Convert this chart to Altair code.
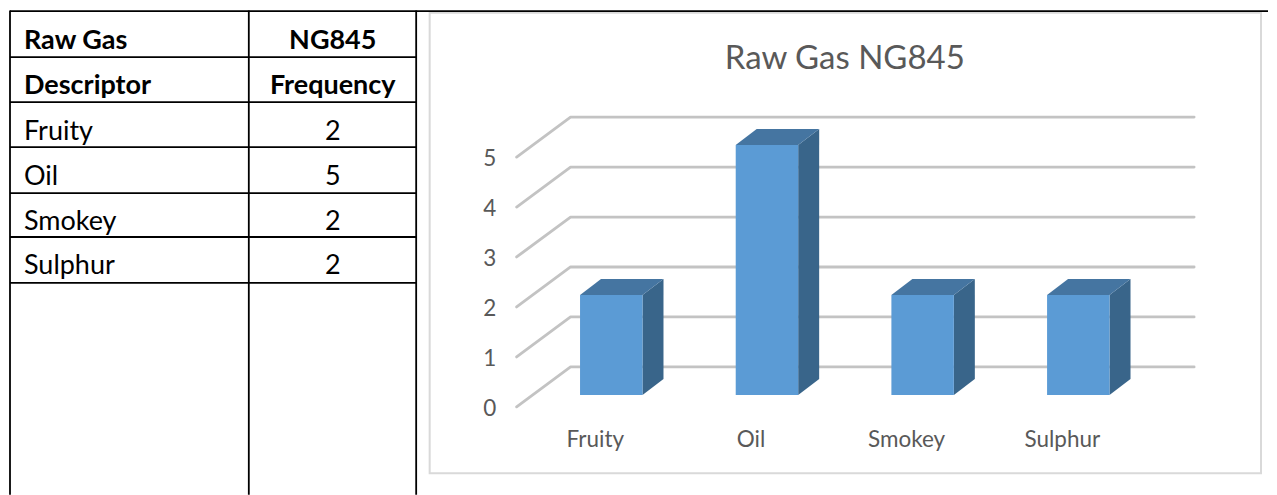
import altair as alt
import pandas as pd

# ---- chart values
categories = ["Fruity", "Oil", "Smokey", "Sulphur"]
frequency = [2, 5, 2, 2]
y_ticks = [0, 1, 2, 3, 4, 5]
chart_title = ["Raw Gas NG845"]

# ---- table contents
table_heads_left = ["Raw Gas", "Descriptor"]
table_heads_right = ["NG845", "Frequency"]

# ---- table geometry (page pixels)
row_lines = [11, 57, 102, 147, 193, 237, 283]
col_lines = [10, 249, 416.5]
head_y = [40.5, 85.5]
row_y = [131.5, 176.5, 221.5, 266.5]

FONT = "Lato"
W, H = 1261, 487
RIGHT = 8 + W
px_x = alt.Scale(domain=[8, RIGHT], range=[0, W])
px_y = alt.Scale(domain=[495, 8], range=[H, 0])
cx = alt.Scale(domain=[(8 - 611.75) / 155.8, (RIGHT - 611.75) / 155.8], range=[0, W], nice=False, zero=False)
vy = alt.Scale(domain=[-2.0, 7.74], range=[H, 0], nice=False, zero=False)

# ---- table layer
frame = alt.Chart(pd.DataFrame({"a": [430], "b": [1262], "c": [12.5], "d": [473.5]})).mark_rect(
    fill="white", stroke="#d9d9d9", strokeWidth=2
).encode(
    x=alt.X("a:Q", scale=px_x, axis=None), x2="b:Q",
    y=alt.Y("c:Q", scale=px_y, axis=None), y2="d:Q",
)
hl = pd.DataFrame({"y": row_lines[1:], "a": 10, "b": 416.5})
hl = pd.concat([hl, pd.DataFrame({"y": [11], "a": [10], "b": [RIGHT]})])
hrules = alt.Chart(hl).mark_rule(color="black", strokeWidth=1.8).encode(
    x=alt.X("a:Q", scale=px_x, axis=None), x2="b:Q",
    y=alt.Y("y:Q", scale=px_y, axis=None),
)
vl = pd.DataFrame({"x": col_lines, "a": 10.2, "b": 495})
vrules = alt.Chart(vl).mark_rule(color="black", strokeWidth=1.8).encode(
    x=alt.X("x:Q", scale=px_x, axis=None),
    y=alt.Y("a:Q", scale=px_y, axis=None), y2="b:Q",
)
left = pd.DataFrame({"t": table_heads_left + categories, "y": head_y + row_y,
                     "b": ["bold"] * 2 + ["normal"] * 4, "x": 24})
right = pd.DataFrame({"t": table_heads_right + [str(v) for v in frequency], "y": head_y + row_y,
                      "b": ["bold"] * 2 + ["normal"] * 4, "x": 333})
def table_text(df, align):
    base = alt.Chart(df)
    out = []
    for w in ["bold", "normal"]:
        out.append(base.transform_filter(alt.datum.b == w).mark_text(
            font=FONT, fontSize=27, fontWeight=w, align=align, baseline="middle", color="black"
        ).encode(
            x=alt.X("x:Q", scale=px_x, axis=None),
            y=alt.Y("y:Q", scale=px_y, axis=None),
            text="t:N",
        ))
    return out
table_layer = alt.layer(frame, hrules, vrules, *table_text(left, "left"), *table_text(right, "center"))

# ---- 3-D chart layer (x in category units, y in frequency units)
BAR_W, DX, DY = 0.4012, 0.1348, 0.32
WALL_L, WALL_B, WALL_R = -0.608, -0.2616, 3.744
FRONT_DY, BACK_DY = -0.24, 0.56

grid_rows = []
for v in y_ticks:
    grid_rows += [{"v": v, "x": WALL_L, "y": v + FRONT_DY},
                  {"v": v, "x": WALL_B, "y": v + BACK_DY},
                  {"v": v, "x": WALL_R, "y": v + BACK_DY}]
grid = alt.Chart(pd.DataFrame(grid_rows)).mark_line(
    color="#c3c3c3", strokeWidth=2.8, strokeCap="round", strokeJoin="round"
).encode(
    x=alt.X("x:Q", scale=cx, axis=None),
    y=alt.Y("y:Q", scale=vy, axis=None),
    detail="v:N",
    order="x:Q",
)

front, side, top = [], [], []
for i, (c, v) in enumerate(zip(categories, frequency)):
    l, r = i - BAR_W / 2, i + BAR_W / 2
    front.append({"c": c, "l": l, "r": r, "v": v, "z": 0})
    side += [{"c": c, "px": r, "lo": 0, "hi": v}, {"c": c, "px": r + DX, "lo": DY, "hi": v + DY}]
    top += [{"c": c, "px": l, "lo": v, "hi": v},
            {"c": c, "px": l + DX, "lo": v, "hi": v + DY},
            {"c": c, "px": r, "lo": v, "hi": v + DY},
            {"c": c, "px": r + DX, "lo": v + DY, "hi": v + DY}]

def face(rows, color):
    return alt.Chart(pd.DataFrame(rows)).mark_area(
        color=color, interpolate="linear", opacity=1, orient="vertical"
    ).encode(
        x=alt.X("px:Q", scale=cx, axis=None),
        y=alt.Y("lo:Q", scale=vy, axis=None),
        y2=alt.Y2("hi:Q"),
        detail="c:N",
    )

side_marks = face(side, "#39658a")
top_marks = face(top, "#4575a1")
front_marks = alt.Chart(pd.DataFrame(front)).mark_rect(color="#5b9bd5").encode(
    x=alt.X("l:Q", scale=cx, axis=None), x2="r:Q",
    y=alt.Y("v:Q", scale=vy, axis=None), y2="z:Q",
)
x_labels = alt.Chart(pd.DataFrame({"t": categories, "x": [i - 0.1027 for i in range(4)], "y": -0.9})).mark_text(
    font=FONT, fontSize=22.5, color="#595959", align="center", baseline="middle"
).encode(
    x=alt.X("x:Q", scale=cx, axis=None), y=alt.Y("y:Q", scale=vy, axis=None), text="t:N",
)
y_labels = alt.Chart(pd.DataFrame({"t": [str(v) for v in y_ticks], "y": [v + FRONT_DY - 0.035 for v in y_ticks], "x": -0.781})).mark_text(
    font=FONT, fontSize=22.5, color="#595959", align="center", baseline="middle"
).encode(
    x=alt.X("x:Q", scale=cx, axis=None), y=alt.Y("y:Q", scale=vy, axis=None), text="t:N",
)
title = alt.Chart(pd.DataFrame({"t": chart_title, "x": [1.5], "y": [6.72]})).mark_text(
    font=FONT, fontSize=33, color="#595959", align="center", baseline="middle"
).encode(
    x=alt.X("x:Q", scale=cx, axis=None), y=alt.Y("y:Q", scale=vy, axis=None), text="t:N",
)
plot_layer = alt.layer(grid, side_marks, top_marks, front_marks, x_labels, y_labels, title)

chart = alt.layer(table_layer, plot_layer).resolve_scale(x="independent", y="independent").properties(
    width=W, height=H, padding=0, background="white"
).configure_view(stroke=None)

chart.save("out.html", embed_options={"renderer": "svg", "actions": False})
